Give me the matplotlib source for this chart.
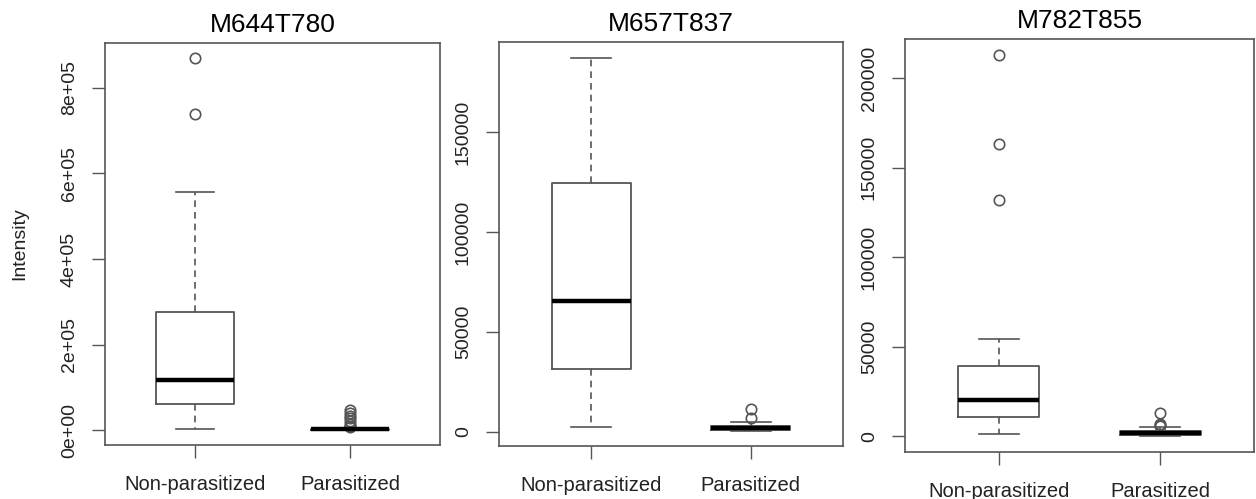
import matplotlib
matplotlib.use("Agg")
import matplotlib.pyplot as plt

plt.rcParams['font.family'] = ['Liberation Sans', 'DejaVu Sans']

titles = ["M644T780", "M657T837", "M782T855"]
groups = ["Non-parasitized", "Parasitized"]

# box statistics per panel, [Non-parasitized, Parasitized]
q1 = [[61000, 800], [31500, 1200], [10600, 700]]
med = [[117000, 1500], [65500, 2000], [20000, 1700]]
q3 = [[276000, 2500], [124500, 2800], [39000, 2600]]
whislo = [[2000, 0], [2500, 300], [1100, 200]]
whishi = [[557000, 5000], [187000, 5000], [54000, 5000]]
fliers = [
    [[870000, 739000], [47000, 40000, 33000, 28000, 21000, 14000, 9000, 7000]],
    [[], [11500, 7000]],
    [[213000, 163000, 132000], [13000, 7000, 6000, 5500]],
]

yticks = [
    [0, 200000, 400000, 600000, 800000],
    [0, 50000, 100000, 150000],
    [0, 50000, 100000, 150000, 200000],
]
ytick_labels = [
    ["0e+00", "2e+05", "4e+05", "6e+05", "8e+05"],
    ["0", "50000", "100000", "150000"],
    ["0", "50000", "100000", "150000", "200000"],
]
ylims = [(-35000, 905000), (-7000, 195000), (-8900, 221800)]

# axes rectangles in pixels: left, right, top, bottom
W, H = 1256, 499
rects = [(105, 440, 43, 445), (499, 843, 42, 446), (905, 1254, 39, 452)]

fig = plt.figure(figsize=(W / 100, H / 100), dpi=100)
lc = '#555555'

for i in range(3):
    l, r, t, b = rects[i]
    ax = fig.add_axes([l / W, (H - b) / H, (r - l) / W, (b - t) / H])
    stats = []
    for j in range(2):
        stats.append(dict(med=med[i][j], q1=q1[i][j], q3=q3[i][j],
                          whislo=whislo[i][j], whishi=whishi[i][j],
                          fliers=fliers[i][j], label=groups[j]))
    ax.bxp(stats, positions=[1, 2], widths=0.5, capwidths=0.25,
           boxprops=dict(color=lc, linewidth=1.3),
           whiskerprops=dict(color=lc, linewidth=1.2, linestyle=(0, (4, 3))),
           capprops=dict(color=lc, linewidth=1.2),
           medianprops=dict(color='black', linewidth=3.2),
           flierprops=dict(marker='o', markerfacecolor='none',
                           markeredgecolor=lc, markersize=7.5, markeredgewidth=1.2))
    ax.set_xlim(0.42, 2.58)
    ax.set_ylim(*ylims[i])
    ax.set_yticks(yticks[i])
    ax.set_yticklabels(ytick_labels[i], rotation=90, va='center', fontsize=14, color='#222222')
    ax.set_xticks([1, 2])
    ax.set_xticklabels(groups, fontsize=14.5, color='#222222')
    ax.tick_params(axis='y', length=9.5, width=1, color=lc, pad=10)
    ax.tick_params(axis='x', length=9.5, width=1, color=lc, pad=12)
    for s in ax.spines.values():
        s.set_color(lc)
        s.set_linewidth(1.2)
    ax.set_title(titles[i], fontsize=19, pad=8)

fig.text(20 / W, (H - 244) / H, "Intensity", rotation=90, va='center', ha='center',
         fontsize=14, color='#222222')

fig.savefig("out.png", dpi=100)
